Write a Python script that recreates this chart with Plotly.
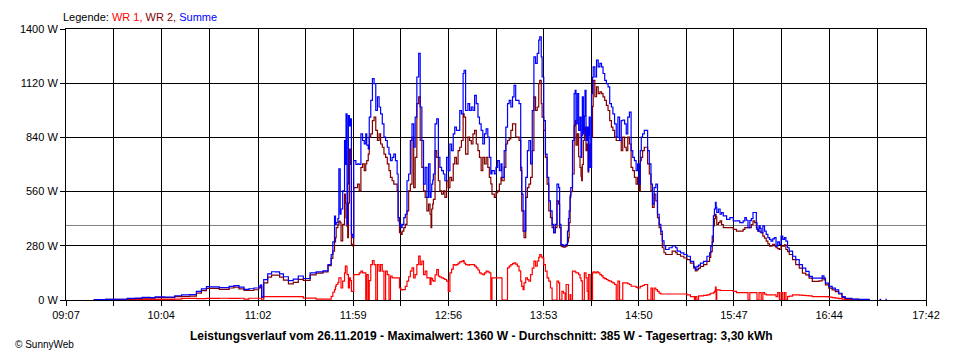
import plotly.graph_objects as go

# ---------------- data ----------------
# time in minutes since midnight, power in W
time_min = [
563.6, 570.7, 576.6, 583.7, 588.4, 592.6, 597.3, 600.3, 606.2, 612.1, 616.3, 621.0, 625.1, 628.1, 631.1, 632.8,
638.8, 644.7, 647.6, 650.6, 653.6, 656.5, 659.5, 662.4, 663.6, 664.2, 665.4, 667.8, 670.1, 672.5, 674.9, 677.2,
680.2, 683.1, 686.1, 689.1, 693.2, 696.8, 700.9, 703.9, 705.8, 706.8, 707.8, 708.4, 708.8, 709.8, 710.4, 711.2,
711.7, 712.7, 713.8, 714.3, 714.7, 715.3, 715.7, 716.1, 716.7, 717.3, 717.9, 718.7, 719.3, 720.6, 721.6, 722.6,
723.6, 724.6, 725.6, 726.5, 727.1, 728.0, 728.6, 729.5, 730.5, 731.5, 732.5, 733.5, 734.5, 735.4, 736.4, 737.4,
738.4, 739.4, 740.4, 741.3, 742.3, 743.3, 744.3, 745.3, 745.9, 746.7, 747.5, 748.3, 749.3, 750.2, 751.2, 752.2,
753.2, 754.2, 755.2, 756.1, 757.1, 758.2, 759.1, 760.1, 761.1, 762.1, 763.1, 764.1, 765.0, 765.6, 766.0, 766.6,
767.0, 768.0, 769.0, 770.0, 770.9, 771.9, 773.0, 773.9, 774.9, 775.9, 776.9, 777.9, 778.9, 779.8, 780.8, 781.8,
782.8, 783.8, 784.8, 785.4, 786.3, 787.7, 788.7, 789.7, 790.7, 791.7, 792.7, 793.7, 794.6, 795.6, 796.6, 797.6,
798.6, 799.6, 800.5, 801.4, 802.1, 803.5, 804.5, 805.5, 806.5, 807.5, 808.1, 809.4, 810.4, 811.4, 812.4, 813.4,
814.4, 815.3, 816.3, 817.3, 818.3, 819.3, 819.9, 820.7, 821.3, 822.3, 823.3, 824.2, 825.2, 826.2, 827.2, 828.2,
829.2, 830.1, 830.7, 831.6, 832.1, 833.1, 834.1, 835.1, 836.1, 837.1, 838.1, 839.0, 840.0, 841.0, 842.0, 842.6,
843.4, 844.0, 844.9, 845.9, 846.5, 847.3, 847.9, 848.3, 848.9, 849.3, 850.3, 851.3, 851.9, 852.4, 853.2, 854.0,
854.8, 855.4, 855.8, 856.2, 856.8, 857.4, 857.8, 858.4, 859.1, 859.7, 860.0, 860.3, 860.9, 861.7, 862.3, 862.7,
863.7, 864.7, 865.7, 866.7, 867.7, 868.6, 869.6, 870.6, 871.6, 872.6, 873.6, 874.5, 875.5, 876.5, 877.5, 878.5,
879.5, 880.4, 881.5, 882.5, 883.4, 884.4, 885.4, 886.4, 887.4, 888.4, 889.3, 890.3, 890.9, 891.5, 892.3, 893.3,
894.3, 895.3, 896.3, 897.3, 898.2, 899.2, 900.2, 901.2, 902.2, 903.2, 904.1, 905.1, 906.1, 908.1, 910.0, 912.1,
913.0, 915.0, 917.0, 918.9, 920.9, 922.9, 923.3, 923.9, 924.8, 925.8, 926.9, 928.8, 930.8, 932.4, 933.1, 934.0,
934.7, 935.3, 935.9, 936.3, 936.7, 937.7, 938.7, 939.6, 940.6, 942.6, 944.6, 946.6, 948.5, 950.5, 952.5, 953.5,
954.4, 955.4, 956.5, 957.4, 958.4, 959.4, 960.4, 960.8, 961.4, 962.0, 962.7, 963.3, 964.3, 965.3, 966.3, 967.3,
968.3, 969.2, 970.2, 971.2, 972.2, 973.2, 974.2, 975.2, 976.2, 977.2, 978.1, 979.1, 980.1, 982.1, 984.0, 986.1,
988.0, 990.0, 992.0, 993.9, 995.9, 997.9, 999.8, 1000.9, 1001.8, 1003.8, 1005.8, 1007.7, 1009.7, 1011.7, 1013.6, 1017.6,
1021.6, 1024.1, 1028.3, 1030.0, 1034.2, 1035.2, 1036.4, 1037.7, 1038.5,
]

summe_w = [
2, 3, 4, 8, 10, 14, 12, 16, 15, 22, 26, 28, 45, 57, 69, 68,
64, 70, 74, 66, 55, 58, 62, 72, 78, 15, 105, 135, 146, 145, 135, 120,
100, 108, 124, 111, 140, 145, 150, 183, 235, 300, 434, 390, 400, 420, 677, 443,
470, 564, 824, 700, 962, 391, 600, 953, 900, 936, 339, 322, 720, 700, 703, 700,
858, 824, 806, 858, 800, 780, 945, 1031, 1144, 1118, 979, 1049, 997, 962, 910, 841,
824, 789, 754, 720, 737, 754, 720, 651, 426, 391, 374, 391, 426, 443, 616, 651,
824, 910, 789, 945, 1152, 1274, 997, 824, 599, 685, 530, 703, 530, 560, 599, 620,
651, 910, 936, 737, 685, 668, 651, 616, 737, 668, 806, 772, 858, 893, 876, 876,
979, 962, 1170, 1187, 979, 1014, 979, 997, 979, 1057, 1014, 945, 910, 876, 806, 858,
884, 841, 737, 651, 668, 651, 685, 720, 668, 703, 633, 772, 893, 1014, 1031, 997,
1049, 1109, 1031, 1031, 1014, 685, 547, 460, 356, 633, 772, 824, 703, 979, 1256, 1222,
1274, 1343, 1360, 1256, 1152, 927, 754, 633, 512, 460, 391, 348, 391, 599, 581, 391,
287, 285, 279, 283, 287, 356, 420, 460, 540, 581, 824, 1066, 1083, 910, 1066, 876,
945, 737, 850, 1049, 858, 950, 1083, 824, 893, 668, 850, 945, 685, 1066, 1150, 1204,
1152, 1239, 1204, 1222, 1204, 1170, 1135, 1118, 1101, 1014, 997, 962, 910, 841, 945, 824,
927, 930, 910, 858, 945, 971, 772, 737, 720, 668, 703, 599, 772, 841, 858, 876,
876, 772, 703, 599, 495, 581, 599, 443, 391, 356, 305, 279, 261, 270, 279, 270,
252, 243, 235, 226, 200, 174, 170, 157, 174, 180, 191, 200, 226, 243, 278, 330,
435, 470, 504, 480, 452, 470, 443, 452, 435, 417, 426, 409, 409, 400, 409, 426,
412, 374, 410, 420, 452, 452, 400, 365, 356, 383, 370, 348, 383, 356, 339, 322,
313, 304, 316, 322, 278, 300, 287, 330, 313, 322, 304, 270, 252, 226, 209, 183,
165, 148, 122, 113, 113, 113, 125, 113, 87, 70, 61, 52, 35, 17, 9, 5,
4, 3, 3, None, 3, 3, None, 3, 3,
]

wr2_w = [
2, 3, 4, 6, 7, 10, 9, 12, 12, 17, 18, 20, 36, 48, 60, 60,
55, 62, 66, 57, 50, 49, 53, 63, 69, 15, 88, 118, 129, 128, 118, 103,
83, 91, 107, 101, 130, 139, 145, 178, 215, 253, 300, 322, 374, 390, 408, 400,
305, 391, 547, 500, 426, 380, 322, 500, 780, 700, 287, 279, 581, 580, 599, 564,
685, 703, 668, 703, 720, 754, 841, 858, 927, 945, 876, 824, 858, 806, 789, 754,
737, 703, 668, 633, 616, 599, 599, 564, 408, 348, 339, 356, 374, 391, 460, 564,
599, 841, 581, 737, 1014, 1049, 824, 685, 564, 530, 460, 495, 443, 374, 470, 495,
520, 772, 737, 616, 564, 547, 564, 530, 616, 581, 633, 616, 703, 737, 703, 772,
789, 824, 962, 945, 754, 841, 824, 806, 858, 876, 806, 772, 737, 668, 737, 703,
737, 685, 633, 600, 547, 530, 555, 564, 599, 633, 616, 685, 806, 824, 832, 876,
910, 910, 841, 841, 824, 668, 460, 356, 322, 530, 581, 599, 633, 772, 1049, 979,
997, 1118, 1135, 1014, 945, 876, 737, 599, 460, 426, 374, 348, 374, 512, 495, 374,
279, 276, 273, 276, 279, 300, 322, 400, 530, 560, 651, 900, 927, 800, 858, 740,
685, 640, 616, 700, 824, 850, 893, 772, 806, 660, 720, 806, 685, 841, 1000, 1135,
1050, 1101, 1066, 1075, 1066, 1049, 1031, 1005, 979, 927, 893, 876, 841, 824, 824, 824,
772, 841, 789, 772, 841, 806, 685, 668, 633, 599, 633, 564, 720, 737, 772, 789,
789, 703, 651, 564, 478, 547, 512, 426, 374, 339, 270, 244, 235, 235, 253, 244,
235, 226, 217, 209, 191, 165, 165, 150, 157, 165, 174, 183, 200, 220, 250, 300,
383, 420, 443, 430, 391, 400, 409, 390, 374, 374, 374, 365, 356, 356, 365, 374,
374, 374, 374, 390, 409, 400, 374, 365, 356, 356, 350, 348, 330, 320, 304, 290,
278, 280, 287, 280, 270, 265, 261, 278, 278, 285, 261, 250, 235, 209, 183, 165,
139, 130, 113, 96, 96, 99, 113, 104, 78, 61, 52, 43, 31, 14, 7, 3,
2, 2, 2, None, None, None, None, None, None,
]

wr1_w = [
0, 0, 0, 2, 3, 3, 3, 3, 3, 5, 8, 8, 7, 7, 8, 8,
9, 8, 8, 9, 5, 9, 9, 9, 9, 0, 17, 17, 17, 17, 17, 17,
17, 17, 17, 10, 10, 5, 5, 5, 19, 40, 54, 70, 80, 90, 114, 114,
62, 97, 140, 175, 175, 131, 131, 62, 114, 100, 45, 45, 131, 131, 131, 140,
149, 140, 140, 0, 131, 0, 100, 183, 204, 183, 0, 183, 149, 183, 149, 0,
149, 131, 0, 123, 114, 114, 114, 114, 114, 62, 52, 54, 54, 70, 97, 120,
149, 166, 114, 131, 183, 227, 183, 201, 131, 149, 114, 114, 80, 114, 110, 100,
97, 130, 157, 123, 118, 114, 110, 106, 97, 45, 140, 160, 183, 180, 183, 190,
197, 200, 204, 190, 183, 180, 183, 183, 183, 175, 166, 155, 140, 135, 131, 140,
149, 145, 140, 0, 114, 114, 114, 114, 114, 114, 0, 0, 0, 166, 175, 183,
188, 192, 185, 175, 150, 97, 70, 54, 88, 114, 105, 97, 131, 165, 201, 175,
201, 220, 235, 225, 218, 183, 149, 114, 97, 62, 0, 0, 0, 97, 88, 0,
0, 45, 36, 0, 80, 80, 0, 0, 28, 0, 149, 149, 145, 140, 140, 131,
114, 100, 97, 0, 0, 140, 140, 114, 45, 0, 131, 131, 0, 0, 140, 145,
140, 145, 140, 131, 125, 114, 110, 106, 100, 97, 92, 88, 80, 0, 97, 0,
0, 88, 88, 88, 84, 80, 71, 71, 71, 65, 62, 62, 70, 71, 75, 80,
80, 0, 0, 62, 0, 62, 54, 45, 36, 31, 31, 31, 31, 31, 31, 31,
31, 31, 31, 26, 17, 17, 0, 17, 0, 21, 21, 24, 26, 30, 35, 35,
38, 45, 66, 0, 52, 52, 49, 49, 49, 49, 49, 45, 38, 38, 38, 38,
38, 0, 38, 38, 38, 38, 38, 0, 0, 38, 38, 0, 38, 30, 26, 26,
26, 26, 26, 26, 17, 38, 0, 38, 0, 38, 0, 17, 20, 26, 26, 25,
24, 23, 21, 17, 17, 17, 17, 17, 17, 15, 12, 10, 7, 5, 3, 0,
0, 0, 0, None, None, None, None, None, None,
]

x_tick_labels = ["09:07", "10:04", "11:02", "11:59", "12:56", "13:53", "14:50", "15:47", "16:44", "17:42"]
y_tick_values = [0, 280, 560, 840, 1120, 1400]
y_tick_labels = ["0 W", "280 W", "560 W", "840 W", "1120 W", "1400 W"]

series_names = ["WR 1", "WR 2", "Summe"]
series_colors = ["#FF0000", "#800000", "#0000FF"]

average_w = 385
title_text = ("Leistungsverlauf vom 26.11.2019 - Maximalwert: 1360 W - "
              "Durchschnitt: 385 W - Tagesertrag: 3,30 kWh")
credit_text = "© SunnyWeb"

# ---------------- figure ----------------
def to_min(label):
    h, m = label.split(":")
    return int(h) * 60 + int(m)

major = [to_min(t) for t in x_tick_labels]
tickvals, ticktext = [], []
for i, v in enumerate(major):
    tickvals.append(v)
    ticktext.append(x_tick_labels[i])
    if i < len(major) - 1:
        tickvals.append((v + major[i + 1]) / 2)
        ticktext.append("")

FONT = "Liberation Sans, Arial, sans-serif"

fig = go.Figure()
for name, vals, col in zip(series_names, [wr1_w, wr2_w, summe_w], series_colors):
    fig.add_trace(go.Scatter(
        x=time_min, y=vals, name=name, mode="lines",
        line=dict(color=col, width=1.2, shape="hv"),
        connectgaps=False, hoverinfo="skip",
    ))

fig.add_shape(type="line", xref="paper", x0=0, x1=1, yref="y", y0=average_w, y1=average_w,
              line=dict(color="#808080", width=1), layer="below")

# the page body has an 8 px margin; the figure is sized so the plot area lands
# at x 60..930, y 29..300 of the 960x360 window
fig.update_layout(
    width=944, height=344,
    margin=dict(l=52, r=22, t=21, b=52),
    paper_bgcolor="white", plot_bgcolor="white",
    showlegend=False,
    font=dict(family=FONT, size=11, color="black"),
    xaxis=dict(
        range=[major[0], major[-1]], tickmode="array", tickvals=tickvals, ticktext=ticktext,
        showgrid=True, gridcolor="black", gridwidth=1,
        ticks="outside", ticklen=5, tickcolor="black", tickwidth=1,
        showline=True, linecolor="black", linewidth=1, mirror=True,
        zeroline=False, tickfont=dict(size=11, family=FONT),
    ),
    yaxis=dict(
        range=[y_tick_values[0], y_tick_values[-1]], tickmode="array",
        tickvals=y_tick_values, ticktext=y_tick_labels,
        showgrid=True, gridcolor="black", gridwidth=1,
        ticks="outside", ticklen=5, tickcolor="black", tickwidth=1,
        showline=True, linecolor="black", linewidth=1, mirror=True,
        zeroline=False, tickfont=dict(size=11, family=FONT),
    ),
)

legend_html = ("Legende: "
               f"<span style='color:{series_colors[0]}'>{series_names[0]},</span> "
               f"<span style='color:{series_colors[1]}'>{series_names[1]},</span> "
               f"<span style='color:{series_colors[2]}'>{series_names[2]}</span>")

fig.add_annotation(text=legend_html, xref="paper", yref="paper", x=-0.006, y=1.044,
                   xanchor="left", yanchor="middle", showarrow=False,
                   font=dict(size=11, family=FONT, color="black"))
fig.add_annotation(text=f"<b>{title_text}</b>", xref="paper", yref="paper", x=0.483, y=-0.133,
                   xanchor="center", yanchor="middle", showarrow=False,
                   font=dict(size=12, family=FONT, color="black"))
fig.add_annotation(text=credit_text, xref="paper", yref="paper", x=-0.062, y=-0.166,
                   xanchor="left", yanchor="middle", showarrow=False,
                   font=dict(size=10, family=FONT, color="black"))

fig.write_html("out.html")
